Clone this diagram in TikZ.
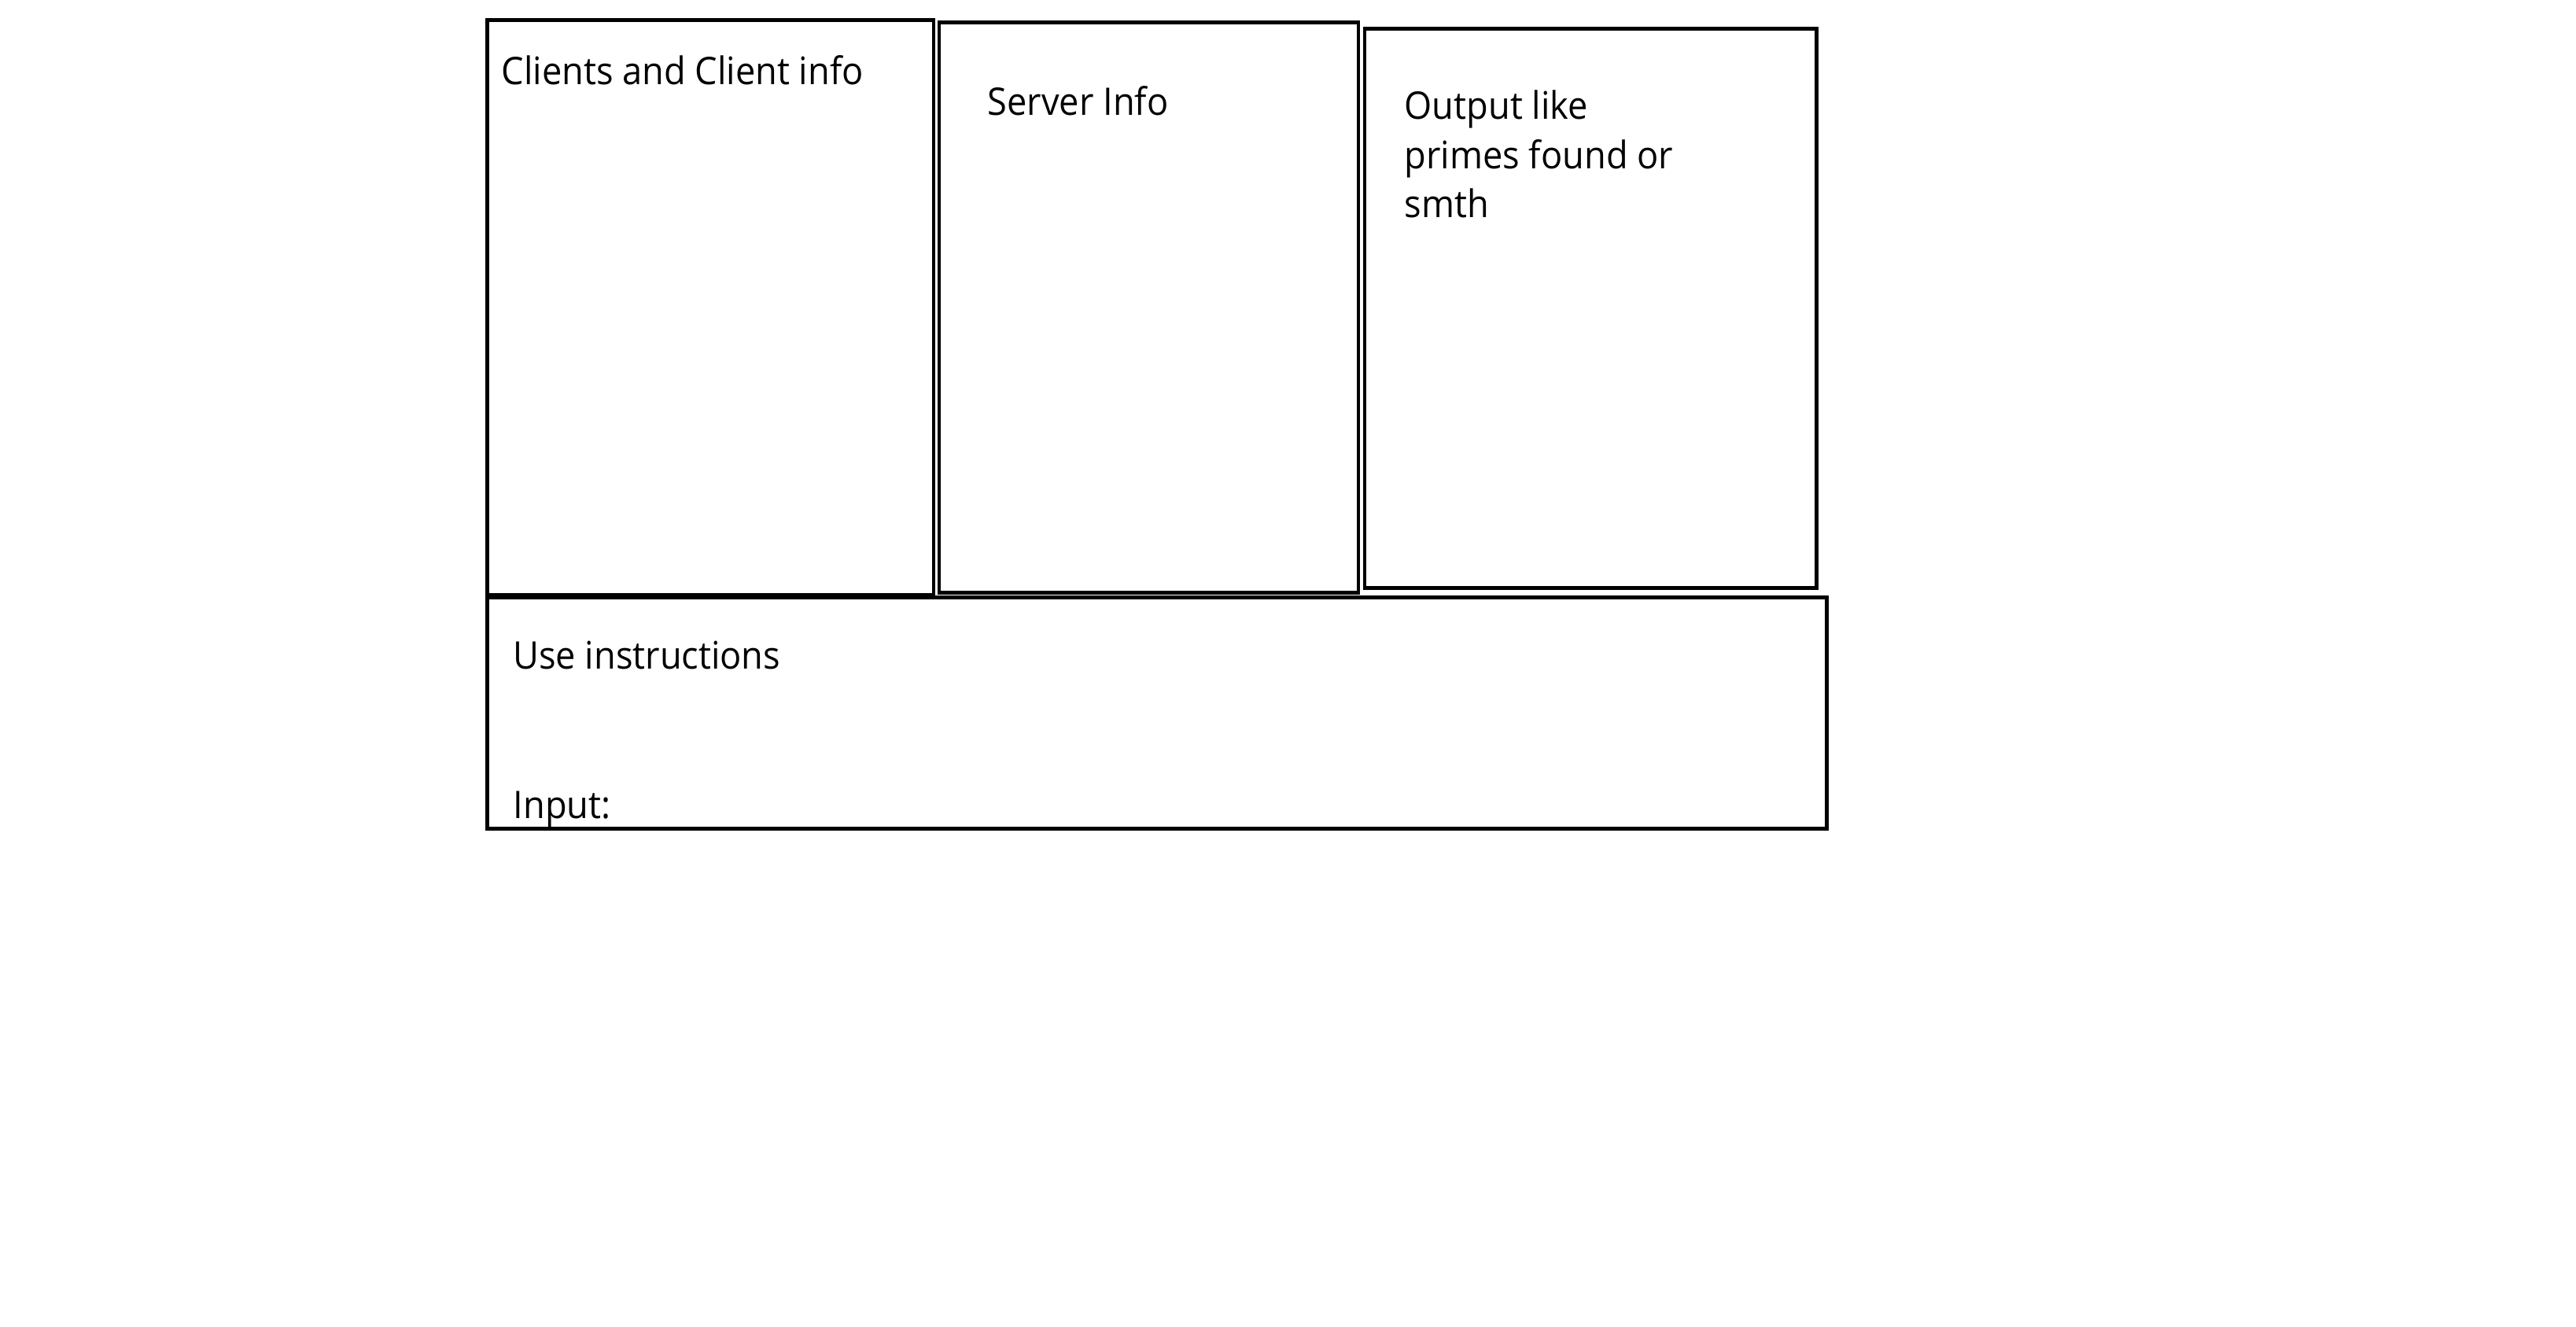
\documentclass[tikz,border=0pt]{standalone}
\usepackage{fontspec}
\setmainfont{Open Sans}[FakeStretch=0.935]
\usepackage{tikz}
\usetikzlibrary{positioning}

\begin{document}
\begin{tikzpicture}[font=\fontsize{13.75pt}{17.9pt}\selectfont]
\useasboundingbox (0,0) rectangle (32.75,-16.87);
\tikzstyle{panel}=[rectangle,fill=none,draw,line width=1.35pt,inner sep=0pt,anchor=north west]
\tikzstyle{label}=[inner sep=0pt,anchor=base west,align=left]
\node[panel,minimum width=5.675cm,minimum height=7.305cm] (clients) at (6.17,-0.235) {};
\node[panel,minimum width=5.33cm,minimum height=7.25cm] (server) at (11.915,-0.265) {};
\node[panel,minimum width=5.745cm,minimum height=7.115cm] (output) at (17.325,-0.34) {};
\node[panel,minimum width=17.03cm,minimum height=2.945cm] (usage) at (6.17,-7.57) {};
\node[label] (clientstxt) at (6.37,-1.073) {Clients and Client info};
\node[label] (servertxt) at (12.55,-1.467) {Server Info};
\node[label] (outputtxt) at (17.85,-2.77) {Output like\\primes found or\\smth};
\node[label] (usetxt) at (6.517,-8.51) {Use instructions};
\node[label] (inputtxt) at (6.52,-10.407) {Input:};
\end{tikzpicture}
\end{document}
